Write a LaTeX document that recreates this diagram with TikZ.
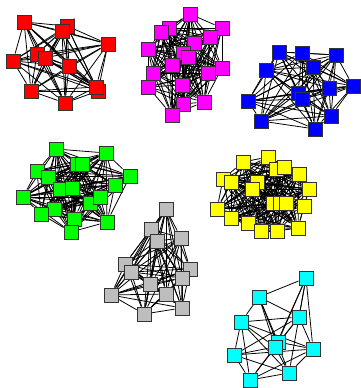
\documentclass[tikz,border=0pt]{standalone}
\usetikzlibrary{backgrounds}

\begin{document}
\begin{tikzpicture}[x=0.02cm,y=-0.02cm]
  \tikzset{vtx/.style={draw=black!80,line width=0.5pt,minimum size=0.28cm,inner sep=0pt,rectangle},
           edge/.style={black,line width=0.45pt}}
  \definecolor{grey}{HTML}{BEBEBE}
  \definecolor{pinkish}{HTML}{FF00FF}
  \definecolor{aqua}{HTML}{00FFFF}
  \definecolor{lime}{HTML}{00FF00}
  \definecolor{lemon}{HTML}{FFFF00}
  \definecolor{navy}{HTML}{0000FF}
  \definecolor{scarlet}{HTML}{FF0000}
  \useasboundingbox (0,0) rectangle (360,388);

  % Seven communities, each node placed by hand.
  \foreach \n/\x/\y in {1/24/22,2/67/26,3/62/31,4/108/44,5/13/61,6/37/54,7/45/58,
                        8/69/66,9/31/91,10/65/103,11/98/91,12/96/87}
    \node[vtx,fill=scarlet] (r\n) at (\x,\y) {};
  \foreach \n/\x/\y in {1/190/14,2/222/28,3/169/28,4/161/32,5/210/37,6/194/43,7/148/49,
                        8/183/53,9/188/57,10/172/65,11/222/68,12/208/73,13/153/73,
                        14/148/87,15/182/85,16/183/104,17/204/102,18/172/115}
    \node[vtx,fill=pinkish] (m\n) at (\x,\y) {};
  \foreach \n/\x/\y in {1/279/52,2/302/53,3/336/55,4/266/70,5/313/67,6/329/88,7/353/86,
                        8/298/93,9/302/99,10/248/101,11/261/121,12/331/116,13/315/129}
    \node[vtx,fill=navy] (b\n) at (\x,\y) {};
  \foreach \n/\x/\y in {1/56/149,2/106/153,3/37/171,4/77/164,5/82/164,6/48/177,7/130/176,
                        8/115/185,9/23/197,10/60/189,11/72/188,12/90/203,13/100/197,
                        14/54/209,15/41/214,16/74/219,17/107/222,18/71/232}
    \node[vtx,fill=lime] (g\n) at (\x,\y) {};
  \foreach \n/\x/\y in {1/243/162,2/268/157,3/276/169,4/284/167,5/299/174,6/223/179,
                        7/231/182,8/257/182,9/252/189,10/309/189,11/273/203,12/280/203,
                        13/286/203,14/304/206,15/217/209,16/231/218,17/248/223,
                        18/261/231,19/277/231,20/298/228}
    \node[vtx,fill=lemon] (y\n) at (\x,\y) {};
  \foreach \n/\x/\y in {1/166/209,2/151/229,3/181/238,4/157/241,5/125/264,6/131/272,
                        7/190/269,8/182/278,9/150/284,10/111/295,11/166/294,12/144/314,
                        13/182/308}
    \node[vtx,fill=grey] (s\n) at (\x,\y) {};
  \foreach \n/\x/\y in {1/306/278,2/259/297,3/299/317,4/241/322,5/278/342,6/275/347,
                        7/234/355,8/313/349,9/250/380,10/289/373}
    \node[vtx,fill=aqua] (c\n) at (\x,\y) {};

  % Links go underneath the boxes.
  \begin{pgfonlayer}{background}
    \foreach \p/\k in {r/12,m/18,b/13,g/18,y/20,s/13}
      \foreach \i in {1,...,\k}
        \foreach \j in {\i,...,\k}
          {\ifnum\j>\i \draw[edge] (\p\i) -- (\p\j);\fi}
    \foreach \a/\b in {1/2,1/3,1/5,1/6,1/8,1/10,2/3,2/4,2/5,2/6,2/10,3/4,3/6,3/7,3/8,3/9,
                       4/6,4/7,4/8,4/9,4/10,5/8,6/7,6/9,6/10,7/8,7/9,7/10,8/9,8/10,9/10}
      \draw[edge] (c\a) -- (c\b);
  \end{pgfonlayer}
\end{tikzpicture}
\end{document}
